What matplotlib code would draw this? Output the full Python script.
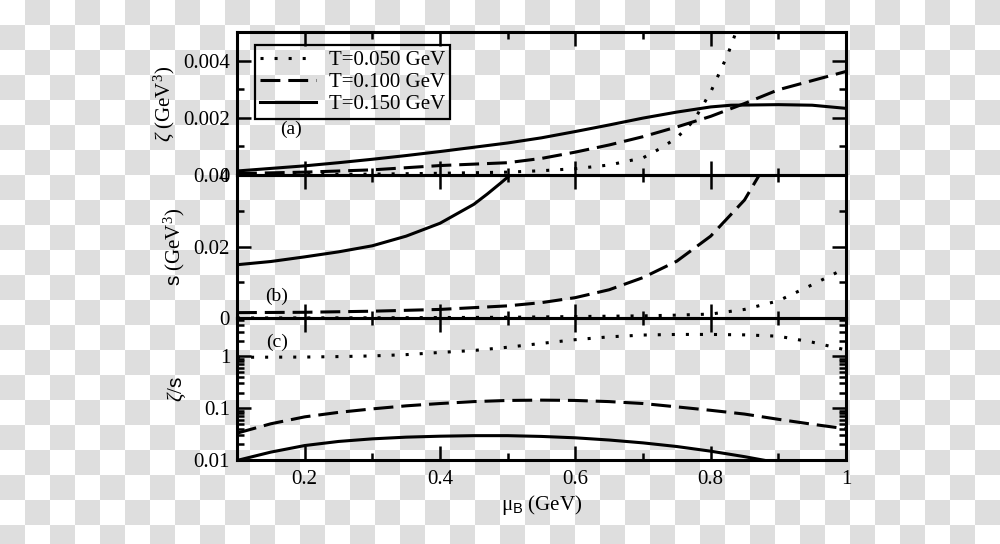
import numpy as np
import matplotlib.pyplot as plt
from matplotlib.ticker import MultipleLocator, FormatStrFormatter, LogLocator, NullFormatter

plt.rcParams['font.family'] = ['Liberation Serif', 'DejaVu Serif']
plt.rcParams['mathtext.fontset'] = 'custom'
plt.rcParams['mathtext.rm'] = 'Liberation Serif'
plt.rcParams['mathtext.it'] = 'Liberation Serif:italic'
plt.rcParams['mathtext.sf'] = 'Liberation Sans'

labels = ['T=0.050 GeV', 'T=0.100 GeV', 'T=0.150 GeV']

# panel (a): bulk viscosity zeta (GeV^3) vs mu_B
mu_a_050 = [0.1, 0.2, 0.3, 0.4, 0.5, 0.55, 0.6, 0.65, 0.7, 0.725, 0.75, 0.775, 0.8, 0.825, 0.85]
zeta_050 = [0.00001, 0.00002, 0.00003, 0.00006, 0.0001, 0.00015, 0.00022, 0.00035, 0.0006,
            0.00092, 0.0013, 0.0019, 0.0029, 0.0042, 0.0058]
mu_a_100 = [0.1, 0.2, 0.3, 0.4, 0.5, 0.55, 0.6, 0.65, 0.7, 0.75, 0.8, 0.85, 0.9, 0.95, 1.0]
zeta_100 = [0.00005, 0.0001, 0.00018, 0.00033, 0.00043, 0.00058, 0.0008, 0.00105, 0.00134,
            0.00168, 0.00205, 0.0025, 0.00298, 0.0033, 0.00362]
mu_a_150 = [0.1, 0.15, 0.2, 0.25, 0.3, 0.35, 0.4, 0.45, 0.5, 0.55, 0.6, 0.65, 0.7, 0.75, 0.8,
            0.83, 0.9, 0.95, 1.0]
zeta_150 = [0.00014, 0.00023, 0.00032, 0.00043, 0.00055, 0.00068, 0.00082, 0.00097, 0.00112,
            0.0013, 0.00152, 0.00175, 0.00199, 0.0022, 0.00238, 0.00244, 0.00246, 0.00244, 0.00233]

# panel (b): entropy density s (GeV^3)
mu_b_050 = [0.1, 0.3, 0.5, 0.6, 0.7, 0.75, 0.8, 0.85, 0.9, 0.95, 1.0]
s_050 = [0.00001, 0.00005, 0.0002, 0.0004, 0.0006, 0.0008, 0.0011, 0.0024, 0.0048, 0.0093, 0.014]
mu_b_100 = [0.1, 0.2, 0.3, 0.4, 0.5, 0.55, 0.6, 0.65, 0.7, 0.75, 0.8, 0.85, 0.875]
s_100 = [0.0015, 0.0016, 0.0019, 0.0024, 0.0034, 0.0043, 0.0057, 0.0079, 0.0113, 0.0159,
         0.0229, 0.033, 0.041]
mu_b_150 = [0.1, 0.15, 0.2, 0.25, 0.3, 0.35, 0.4, 0.45, 0.47, 0.49, 0.51]
s_150 = [0.0149, 0.0158, 0.0171, 0.0185, 0.0202, 0.0229, 0.0265, 0.0318, 0.0347, 0.0378, 0.041]

# panel (c): zeta/s
mu_c = [0.1, 0.15, 0.2, 0.25, 0.3, 0.35, 0.4, 0.45, 0.5, 0.55, 0.6, 0.65, 0.7, 0.75, 0.8,
        0.85, 0.9, 0.95, 1.0]
ratio_050 = [0.96, 0.965, 0.97, 0.99, 1.02, 1.08, 1.19, 1.3, 1.5, 1.78, 2.1, 2.38, 2.58, 2.65,
             2.65, 2.6, 2.45, 1.88, 1.33]
ratio_100 = [0.033, 0.05, 0.068, 0.083, 0.097, 0.111, 0.123, 0.134, 0.141, 0.143, 0.141, 0.134,
             0.123, 0.106, 0.091, 0.077, 0.061, 0.049, 0.040]
ratio_150 = [0.0098, 0.0142, 0.019, 0.0228, 0.0256, 0.0276, 0.0288, 0.0295, 0.0295, 0.0285,
             0.0268, 0.0243, 0.0214, 0.0182, 0.0148, 0.0116, 0.0088, 0.0066, 0.005]

lw = 2.2
dotted = dict(color='black', linewidth=lw, dashes=(1.0, 3.6), dash_capstyle='butt')
dashed = dict(color='black', linewidth=lw, dashes=(6.5, 2.6), dash_capstyle='butt')
solid = dict(color='black', linewidth=lw)
fs = 15

fig = plt.figure(figsize=(10, 5.44), dpi=100, facecolor='white')

# checkered background (transparency pattern of the original)
bg = fig.add_axes([0, 0, 1, 1], zorder=-10)
ny, nx = 22, 40
checker = (np.add.outer(np.arange(ny), np.arange(nx)) % 2).astype(float)
bg.imshow(checker, cmap='gray_r', vmin=0, vmax=7.7, extent=(0, 1000, 550, 0),
          interpolation='nearest', aspect='auto')
bg.set_xlim(0, 1000)
bg.set_ylim(544, 0)
bg.axis('off')

left, width = 0.237, 0.609
ax_c = fig.add_axes([left, 1 - 460 / 544, width, 142 / 544])
ax_b = fig.add_axes([left, 1 - 318 / 544, width, 143 / 544])
ax_a = fig.add_axes([left, 1 - 175 / 544, width, 143 / 544])

ax_a.plot(mu_a_050, zeta_050, label=labels[0], **dotted)
ax_a.plot(mu_a_100, zeta_100, label=labels[1], **dashed)
ax_a.plot(mu_a_150, zeta_150, label=labels[2], **solid)

ax_b.plot(mu_b_050, s_050, **dotted)
ax_b.plot(mu_b_100, s_100, **dashed)
ax_b.plot(mu_b_150, s_150, **solid)

ax_c.plot(mu_c, ratio_050, **dotted)
ax_c.plot(mu_c, ratio_100, **dashed)
ax_c.plot(mu_c, ratio_150, **solid)
ax_c.set_yscale('log')

for ax in (ax_a, ax_b, ax_c):
    ax.set_facecolor('none')
    ax.set_xlim(0.1, 1.0)
    ax.xaxis.set_major_locator(MultipleLocator(0.2))
    ax.xaxis.set_minor_locator(MultipleLocator(0.1))
    ax.xaxis.set_major_formatter(FormatStrFormatter('%g'))
    ax.tick_params(which='both', direction='in', top=True, right=True, width=1.8,
                   labelsize=fs)
    ax.tick_params(which='major', length=10)
    ax.tick_params(which='minor', length=5)
    ax.tick_params(axis='y', pad=5)
    ax.tick_params(axis='x', pad=7)
    for sp in ax.spines.values():
        sp.set_linewidth(2.2)

ax_a.tick_params(labelbottom=False)
ax_b.tick_params(labelbottom=False)

ax_a.set_ylim(0, 0.005)
ax_a.yaxis.set_major_locator(MultipleLocator(0.002))
ax_a.yaxis.set_minor_locator(MultipleLocator(0.001))
ax_a.yaxis.set_major_formatter(FormatStrFormatter('%g'))

ax_b.set_ylim(0, 0.04)
ax_b.yaxis.set_major_locator(MultipleLocator(0.02))
ax_b.yaxis.set_minor_locator(MultipleLocator(0.01))
ax_b.yaxis.set_major_formatter(FormatStrFormatter('%g'))

ax_c.set_ylim(0.01, 5.5)
ax_c.yaxis.set_major_locator(LogLocator(base=10, numticks=10))
ax_c.yaxis.set_minor_locator(LogLocator(base=10, subs=np.arange(2, 10), numticks=10))
ax_c.yaxis.set_major_formatter(FormatStrFormatter('%g'))
ax_c.yaxis.set_minor_formatter(NullFormatter())

ax_a.set_ylabel(r'$\zeta$ (GeV$^3$)', size=fs)
ax_b.set_ylabel(r'$\mathsf{s}$ (GeV$^3$)', size=fs)
ax_c.set_ylabel(r'$\zeta/\mathsf{s}$', size=fs)
ax_a.yaxis.set_label_coords(-0.098, 0.5)
ax_b.yaxis.set_label_coords(-0.082, 0.5)
ax_c.yaxis.set_label_coords(-0.080, 0.5)
ax_c.set_xlabel(r'μ$_\mathsf{B}$ (GeV)', size=fs, labelpad=3)

ax_a.text(0.07, 0.32, '(a)', transform=ax_a.transAxes, size=fs - 1, ha='left', va='center')
ax_b.text(0.046, 0.15, '(b)', transform=ax_b.transAxes, size=fs - 1, ha='left', va='center')
ax_c.text(0.048, 0.83, '(c)', transform=ax_c.transAxes, size=fs - 1, ha='left', va='center')

leg = ax_a.legend(loc='upper left', bbox_to_anchor=(0.0296, 0.909), borderaxespad=0,
                  fontsize=fs, handlelength=2.7, handletextpad=0.6, labelspacing=0.12,
                  borderpad=0.25, fancybox=False, framealpha=1, facecolor='none',
                  edgecolor='black')
leg.get_frame().set_linewidth(1.6)

plt.savefig('out.png', dpi=100)
